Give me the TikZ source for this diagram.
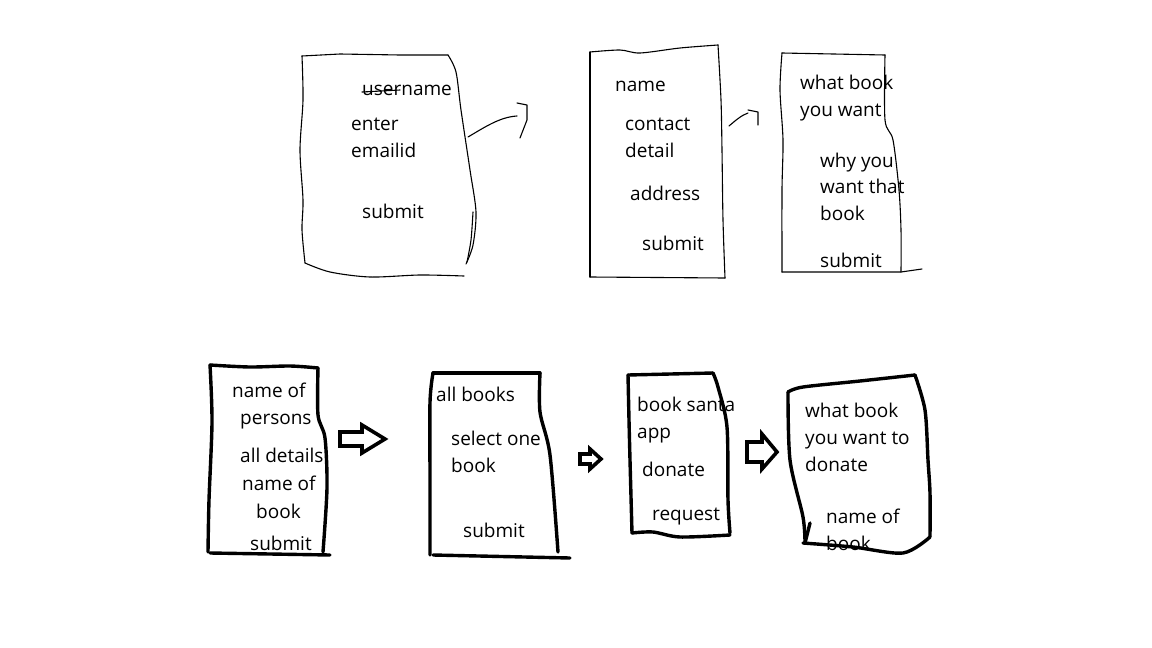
\documentclass[tikz,border=0pt]{standalone}
\usepackage{fontspec}
\setmainfont{Open Sans}
\tikzset{
  thinsk/.style={line width=1.1pt, line join=round, line cap=round},
  thicksk/.style={line width=3.4pt, line join=round, line cap=round},
  blockarrow/.style={line width=3.6pt, line join=miter},
  lbl/.style={anchor=base west, inner sep=0pt, font=\fontsize{19}{27}\selectfont},
}
\begin{document}
\begin{tikzpicture}[x=1pt,y=-1pt]
\useasboundingbox (0,0) rectangle (1152,648);
\fill[white] (0,0) rectangle (1152,648);

% ---------- Top row ----------
% Screen 1
\draw[thinsk] plot[smooth] coordinates {(302,56)(303,100)(300,150)(303,200)(302,230)(305,263)};
\draw[thinsk] (302,56) -- (340,54) -- (400,55) -- (448,55);
\draw[thinsk] plot[smooth] coordinates {(448,55)(456,72)(461,110)(470,170)(476,212)(473,245)(466,264)};
\draw[thinsk] plot[smooth] coordinates {(473,212)(471,240)(467,262)};
\draw[thinsk] plot[smooth] coordinates {(305,263)(330,272)(370,277)(420,275)(464,276)};
\node[lbl] (s1a) at (362,95) {username};
\draw[thinsk] (362,92) -- (400,90);
\node[lbl] (s1b) at (351,130) {enter};
\node[lbl] (s1c) at (351,157) {emailid};
\node[lbl] (s1d) at (362,218) {submit};

% arrow 1 (hand drawn)
\coordinate (a1s) at (468,137);
\coordinate (a1e) at (517,116);
\draw[thinsk] (a1s) .. controls (485,127) and (500,117) .. (a1e);
\draw[thinsk] (517,103) -- (527,105) -- (527,120) -- (520,138);

% Screen 2
\draw[thinsk] plot[smooth] coordinates {(590,52)(620,50)(640,53)(680,48)(718,45)};
\draw[thinsk] plot[smooth] coordinates {(718,45)(721,100)(722,150)(723,220)(725,278)};
\draw[thinsk] (590,52) -- (590,277);
\draw[thinsk] (590,277) -- (725,278);
\node[lbl] (s2a) at (615,91) {name};
\node[lbl] (s2b) at (625,130) {contact};
\node[lbl] (s2c) at (625,157) {detail};
\node[lbl] (s2d) at (630,200) {address};
\node[lbl] (s2e) at (642,250) {submit};

% arrow 2 (hand drawn)
\coordinate (a2s) at (729,126);
\coordinate (a2e) at (748,113);
\draw[thinsk] (a2s) .. controls (736,120) and (742,115) .. (a2e);
\draw[thinsk] (748,110) -- (758,112) -- (758,125);

% Screen 3
\draw[thinsk] plot[smooth] coordinates {(782,53)(780,90)(783,140)(782,190)(782,272)};
\draw[thinsk] (782,53) -- (885,55);
\draw[thinsk] plot[smooth] coordinates {(885,55)(885,120)(893,140)(899,190)(901,230)(901,272)};
\draw[thinsk] (782,272) -- (901,272) -- (922,269);
\node[lbl] (s3a) at (800,89) {what book};
\node[lbl] (s3b) at (800,116) {you want};
\node[lbl] (s3c) at (820,167) {why you};
\node[lbl] (s3d) at (820,193) {want that};
\node[lbl] (s3e) at (820,220) {book};
\node[lbl] (s3f) at (820,267) {submit};

% ---------- Bottom row ----------
% Screen 4
\draw[thicksk] plot[smooth] coordinates {(210,365)(250,367)(290,366)(318,368)};
\draw[thicksk] plot[smooth] coordinates {(318,368)(318,415)(325,438)(327,488)(323,552)};
\draw[thicksk] plot[smooth] coordinates {(210,365)(212,422)(209,500)(208,552)};
\draw[thicksk] (210,553) -- (330,555);
\node[lbl] (s4a) at (232,397) {name of};
\node[lbl] (s4b) at (240,424) {persons};
\node[lbl] (s4c) at (240,462) {all details};
\node[lbl] (s4d) at (242,490) {name of};
\node[lbl] (s4e) at (256,518) {book};
\node[lbl] (s4f) at (250,550) {submit};

% block arrow 1
\draw[blockarrow] (340,432) -- (362,432) -- (362,425) -- (385,439) -- (362,453) -- (362,446) -- (340,446) -- cycle;

% Screen 5
\draw[thicksk] (433,373) -- (540,373);
\draw[thicksk] plot[smooth] coordinates {(433,373)(430,402)(430,480)(430,555)};
\draw[thicksk] plot[smooth] coordinates {(540,373)(540,412)(550,455)(558,552)};
\draw[thicksk] (433,555) -- (570,558);
\node[lbl] (s5a) at (436,401) {all books};
\node[lbl] (s5b) at (451,445) {select one};
\node[lbl] (s5c) at (451,472) {book};
\node[lbl] (s5d) at (463,537) {submit};

% block arrow 2
\draw[blockarrow] (580,454) -- (590,454) -- (590,449) -- (601,459) -- (590,469) -- (590,464) -- (580,464) -- cycle;

% Screen 6
\draw[thicksk] (628,375) -- (713,373);
\draw[thicksk] plot[smooth] coordinates {(713,373)(718,387)(727,427)(728,500)(730,533)};
\draw[thicksk] plot[smooth] coordinates {(628,375)(629,420)(630,460)(632,533)};
\draw[thicksk] plot[smooth] coordinates {(632,533)(653,532)(680,537)(730,535)};
\node[lbl] (s6a) at (637,411) {book santa};
\node[lbl] (s6b) at (637,438) {app};
\node[lbl] (s6c) at (642,476) {donate};
\node[lbl] (s6d) at (652,520) {request};

% block arrow 3
\draw[blockarrow] (747,442) -- (762,442) -- (762,434) -- (777,452) -- (762,469) -- (762,462) -- (747,462) -- cycle;

% Screen 7
\draw[thicksk] plot[smooth] coordinates {(788,392)(803,387)(860,381)(915,375)};
\draw[thicksk] plot[smooth] coordinates {(915,375)(925,410)(928,460)(930,493)(930,537)};
\draw[thicksk] plot[smooth] coordinates {(930,537)(903,553)(853,547)(803,543)};
\draw[thicksk] plot[smooth] coordinates {(788,392)(790,460)(803,517)(805,543)};
\draw[thicksk] (810,523) -- (805,543);
\node[lbl] (s7a) at (805,417) {what book};
\node[lbl] (s7b) at (805,444) {you want to};
\node[lbl] (s7c) at (805,471) {donate};
\node[lbl] (s7d) at (826,523) {name of};
\node[lbl] (s7e) at (826,550) {book};
\end{tikzpicture}
\end{document}
